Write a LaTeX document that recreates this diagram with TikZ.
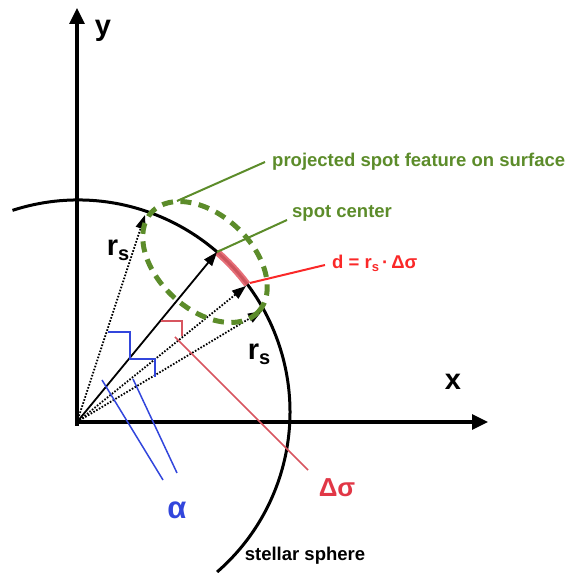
\documentclass[tikz,border=0pt]{standalone}
\usepackage{fontspec}
\setmainfont{Liberation Sans}
\usetikzlibrary{arrows.meta}
\definecolor{sgreen}{RGB}{92,140,42}
\definecolor{sred}{RGB}{250,40,40}
\definecolor{mred}{RGB}{215,85,95}
\definecolor{arcred}{RGB}{228,95,105}
\definecolor{tred}{RGB}{225,55,70}
\definecolor{sblue}{RGB}{50,70,220}
\begin{document}
\begin{tikzpicture}[x=1pt,y=1pt,
  axis/.style={line width=3.2pt,-{Triangle[length=16pt,width=15pt]}},
  vec/.style={line width=1.8pt,-{Triangle[length=14pt,width=10pt]}},
  dvec/.style={vec,dash pattern=on 1.6pt off 1.6pt},
  lbl/.style={font=\fontsize{18.5}{20}\selectfont\bfseries,inner sep=0pt},
  big/.style={font=\fontsize{29}{30}\selectfont\bfseries,inner sep=0pt},
  lead/.style={line width=2pt},
  anglemark/.style={line width=2.5pt},
]
\useasboundingbox (0,0) rectangle (580,572);
% key points
\coordinate (O) at (77,150);
\coordinate (C) at (78,160);
\coordinate (xend) at (488,150);
\coordinate (xstart) at (75,150);
\coordinate (yend) at (77,564);
\coordinate (ystart) at (77,146);
\coordinate (A1) at (145,357);
\coordinate (S) at (217,320);
\coordinate (A2) at (246,286);
\coordinate (A3) at (262,261);
\coordinate (E) at (205,310);
% stellar sphere
\draw[line width=3pt] (C) ++(108:212) arc[start angle=108,end angle=-49,radius=212];
% red arc segment d
\draw[arcred,opacity=0.9,line width=7pt] (C) ++(49:212) arc[start angle=49,end angle=37,radius=212];
% axes
\draw[axis] (xstart) -- (xend);
\draw[axis] (ystart) -- (yend);
% vectors
\draw[dvec] (O) -- (A1);
\draw[vec] (O) -- (S);
\draw[dvec] (O) -- (A2);
\draw[dvec] (O) -- (A3);
% projected spot
\draw[sgreen,line width=5pt,dash pattern=on 11pt off 7.5pt,rotate around={-43:(E)}] (E) ellipse[x radius=73,y radius=47];
% blue angle marks
\coordinate (b1) at (108,240);
\coordinate (b2) at (130,240);
\coordinate (b3) at (130,213);
\coordinate (b4) at (155,213);
\coordinate (b5) at (155,195);
\draw[sblue,anglemark] (b1) -- (b2) -- (b3) -- (b4) -- (b5);
\coordinate (l1a) at (102,192);
\coordinate (l1b) at (163,92);
\coordinate (l2a) at (133,193);
\coordinate (l2b) at (177,99);
\draw[sblue,line width=1.5pt] (l1a) -- (l1b);
\draw[sblue,line width=1.5pt] (l2a) -- (l2b);
% red angle mark
\coordinate (r1) at (161,251);
\coordinate (r2) at (182,251);
\coordinate (r3) at (182,236);
\draw[mred,anglemark] (r1) -- (r2) -- (r3);
\coordinate (rl1) at (175,235);
\coordinate (rl2) at (308,102);
\draw[mred,line width=1.5pt] (rl1) -- (rl2);
% labels
\node[big] (ylab) at (103,541) {y};
\node[big] (xlab) at (453,190) {x};
\node[big] (rs1) at (118,322) {r\raisebox{-5pt}{\fontsize{20}{20}\selectfont s}};
\node[big] (rs2) at (259,218) {r\raisebox{-5pt}{\fontsize{20}{20}\selectfont s}};
\node[font=\fontsize{31}{32}\selectfont\bfseries,inner sep=0pt,text=sblue] (alab) at (177,62) {α};
\node[font=\fontsize{26}{28}\selectfont\bfseries,inner sep=0pt,text=tred] (dslab) at (337,84) {Δσ};
\node[lbl] (stel) at (305,16) {stellar sphere};
\node[lbl,text=sgreen,anchor=west] (proj) at (272,410) {projected spot feature on surface};
\node[lbl,text=sgreen,anchor=west] (sc) at (292,359) {spot center};
\node[lbl,text=sred,anchor=west] (dl) at (332,309) {d = r\raisebox{-3pt}{\fontsize{13}{13}\selectfont s}\,·\,Δσ};
% leaders
\coordinate (pj1) at (265,410);
\coordinate (pj2) at (177,371);
\draw[sgreen,lead] (pj1) -- (pj2);
\coordinate (sc1) at (287,352);
\draw[sgreen,lead] (sc1) -- (S);
\coordinate (d1) at (325,307);
\coordinate (d2) at (250,289);
\draw[sred,lead] (d1) -- (d2);
\end{tikzpicture}
\end{document}
